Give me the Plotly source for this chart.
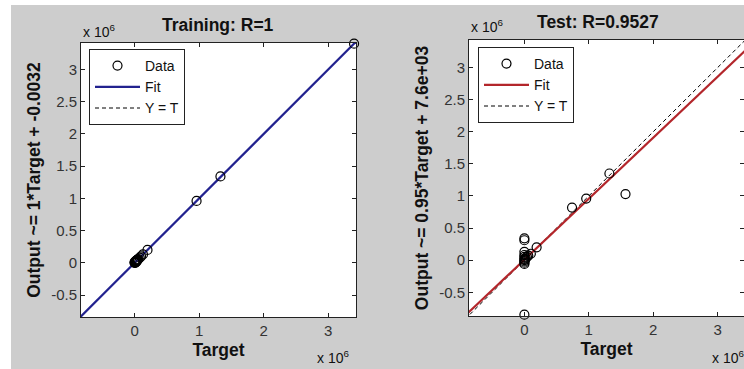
import plotly.graph_objects as go

# ---- data (values in units of 1e6) ----
train_target = [0.0, 0.0, 0.005, 0.01, 0.01, 0.015, 0.02, 0.02, 0.025, 0.03, 0.03, 0.035,
                0.04, 0.045, 0.05, 0.06, 0.08, 0.1, 0.13, 0.2, 0.96, 1.33, 3.4]
train_output = [0.0, 0.01, 0.01, 0.0, 0.02, 0.02, 0.01, 0.03, 0.03, 0.02, 0.04, 0.04,
                0.04, 0.05, 0.05, 0.06, 0.08, 0.1, 0.13, 0.2, 0.96, 1.34, 3.4]

test_target = [0.0, 0.0, 0.0, 0.0, 0.0, 0.0, 0.0, 0.0, 0.0, 0.0, 0.0, 0.01, 0.02,
               0.04, 0.06, 0.1, 0.19, 0.74, 0.96, 1.32, 1.57]
test_output = [0.34, 0.31, 0.13, 0.08, 0.05, 0.02, 0.0, -0.02, -0.04, -0.06, -0.85, 0.01, 0.03,
               0.05, 0.07, 0.1, 0.2, 0.82, 0.96, 1.35, 1.03]

train_slope, train_intercept = 1.0, -0.0032e-6
test_slope, test_intercept = 0.95, 7.6e3 / 1e6

line_x = [-1.0, 4.0]

x_tickvals = [0, 1, 2, 3]
x_ticktext = ["0", "1", "2", "3"]
y_tickvals = [-0.5, 0, 0.5, 1, 1.5, 2, 2.5, 3]
y_ticktext = ["-0.5", "0", "0.5", "1", "1.5", "2", "2.5", "3"]

FONT = "Liberation Sans, Arial, sans-serif"
W, H = 744, 369
GRAY = "#cdcdcd"
BLUE = "#22228f"
RED = "#b3262b"

def px(x):
    return x / W

def py(y):
    return 1 - y / H

fig = go.Figure()

def add_panel(tx, ty, slope, intercept, color, xa, ya, legend):
    fit_y = [slope * v + intercept for v in line_x]
    fig.add_trace(go.Scatter(x=line_x, y=line_x, mode="lines", name="Y = T",
                             line=dict(color="black", width=1, dash="4px,3px"),
                             xaxis=xa, yaxis=ya, legend=legend, legendrank=3))
    fig.add_trace(go.Scatter(x=line_x, y=fit_y, mode="lines", name="Fit",
                             line=dict(color=color, width=2.2),
                             xaxis=xa, yaxis=ya, legend=legend, legendrank=2))
    fig.add_trace(go.Scatter(x=tx, y=ty, mode="markers", name="Data",
                             marker=dict(symbol="circle-open", size=9, color="black",
                                         line=dict(width=1.2, color="black")),
                             cliponaxis=False,
                             xaxis=xa, yaxis=ya, legend=legend, legendrank=1))

add_panel(train_target, train_output, train_slope, train_intercept, BLUE, "x", "y", "legend")
add_panel(test_target, test_output, test_slope, test_intercept, RED, "x2", "y2", "legend2")

axis_common = dict(showline=True, linecolor="#222", linewidth=1, mirror="ticks",
                   ticks="inside", ticklen=4, tickcolor="#222", showgrid=False,
                   zeroline=False, tickfont=dict(family=FONT, size=15, color="#333"),
                   title_font=dict(family=FONT, size=17.5, color="#111", weight="bold"))

fig.update_layout(
    width=W, height=H,
    margin=dict(l=0, r=0, t=0, b=0),
    paper_bgcolor=GRAY, plot_bgcolor="white",
    showlegend=True,
    xaxis=dict(domain=[px(81), px(356)], range=[-0.83, 3.43], anchor="y",
               tickvals=x_tickvals, ticktext=x_ticktext,
               title=dict(text="Target", standoff=5), **axis_common),
    yaxis=dict(domain=[py(317), py(43)], range=[-0.84, 3.41], anchor="x",
               tickvals=y_tickvals, ticktext=y_ticktext,
               title=dict(text="Output ~= 1*Target + -0.0032", standoff=6), **axis_common),
    xaxis2=dict(domain=[px(469), 1.0], range=[-0.86, 3.41], anchor="y2",
                tickvals=x_tickvals, ticktext=x_ticktext,
                title=dict(text="Target", standoff=5), **axis_common),
    yaxis2=dict(domain=[py(316), py(40)], range=[-0.87, 3.43], anchor="x2",
                tickvals=y_tickvals, ticktext=y_ticktext,
                title=dict(text="Output ~= 0.95*Target + 7.6e+03", standoff=6), **axis_common),
    legend=dict(x=px(89), y=py(49), xanchor="left", yanchor="top",
                bgcolor="white", bordercolor="#222", borderwidth=1,
                font=dict(family=FONT, size=14, color="#111"),
                itemwidth=45, tracegroupgap=0),
    legend2=dict(x=px(478), y=py(47), xanchor="left", yanchor="top",
                 bgcolor="white", bordercolor="#222", borderwidth=1,
                 font=dict(family=FONT, size=14, color="#111"),
                 itemwidth=45, tracegroupgap=0),
    shapes=[
        dict(type="rect", xref="paper", yref="paper", x0=0, x1=1, y0=py(5), y1=1,
             fillcolor="white", line=dict(width=0), layer="above"),
        dict(type="rect", xref="paper", yref="paper", x0=0, x1=px(11), y0=0, y1=1,
             fillcolor="white", line=dict(width=0), layer="above"),
    ],
)

def ann(text, x, y, xanchor="center", size=14, bold=False):
    fig.add_annotation(text=text, x=px(x), y=py(y), xref="paper", yref="paper",
                       xanchor=xanchor, yanchor="middle", showarrow=False,
                       font=dict(family=FONT, size=size, color="#111",
                                 weight="bold" if bold else "normal"))

ann("Training: R=1", 218, 25, size=17.5, bold=True)
ann("Test: R=0.9527", 598, 22, size=17.5, bold=True)
ann("x 10<sup>6</sup>", 81, 31, xanchor="left", size=14)
ann("x 10<sup>6</sup>", 351, 357, xanchor="right", size=14)
ann("x 10<sup>6</sup>", 469, 26, xanchor="left", size=14)
ann("x 10<sup>6</sup>", 710, 357, xanchor="left", size=14)

fig.write_html("out.html")
